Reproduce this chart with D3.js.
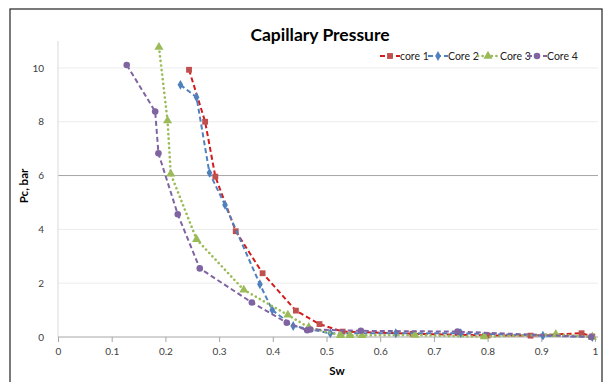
<!DOCTYPE html>
<html><head><meta charset="utf-8">
<script src="https://cdn.jsdelivr.net/npm/d3@7"></script>
<style>body{margin:0;background:#fff}svg{display:block}</style>
</head><body>
<script>
const seriesNames = ["core 1", "Core 2", "Core 3", "Core 4"];
const core1 = [[0.244,9.93],[0.274,8.0],[0.293,5.96],[0.331,3.93],[0.381,2.37],[0.443,0.98],[0.487,0.48],[0.53,0.2],[0.66,0.12],[0.8,0.06],[0.88,0.05],[0.975,0.14],[0.995,0.02]];
const core2 = [[0.228,9.37],[0.258,8.91],[0.282,6.1],[0.311,4.91],[0.376,1.96],[0.399,1.0],[0.438,0.41],[0.507,0.14],[0.629,0.14],[0.75,0.14],[0.903,0.05],[0.995,0.0]];
const core3 = [[0.188,10.77],[0.204,8.04],[0.21,6.06],[0.258,3.63],[0.346,1.75],[0.428,0.82],[0.467,0.36],[0.526,0.06],[0.544,0.06],[0.566,0.06],[0.665,0.07],[0.794,0.01],[0.927,0.1],[0.995,0.0]];
const core4 = [[0.128,10.11],[0.181,8.38],[0.187,6.83],[0.223,4.56],[0.264,2.55],[0.361,1.28],[0.426,0.53],[0.464,0.25],[0.47,0.28],[0.564,0.23],[0.744,0.2],[0.993,0.0]];
const xTicks = [0,0.1,0.2,0.3,0.4,0.5,0.6,0.7,0.8,0.9,1];
const yTicks = [0,2,4,6,8,10];

const W=612,H=382;
const svg=d3.select("body").append("svg").attr("width",W).attr("height",H);
const font="Lato, 'Open Sans', sans-serif";
// frame
svg.append("rect").attr("x",10).attr("y",9).attr("width",592).attr("height",400).attr("fill","none").attr("stroke","#222").attr("stroke-width",1.2);

const x=d3.scaleLinear().domain([0,1]).range([58,595]);
const y=d3.scaleLinear().domain([0,11]).range([337,41]);

// gridlines
svg.append("g").selectAll("line").data(yTicks.filter(d=>d>0)).join("line")
  .attr("x1",58).attr("x2",598).attr("y1",d=>y(d)).attr("y2",d=>y(d))
  .attr("stroke",d=>d===6?"#a6a6a6":"#ececec").attr("stroke-width",1);
// y axis line
svg.append("line").attr("x1",58).attr("x2",58).attr("y1",41).attr("y2",337).attr("stroke","#d9d9d9");

// x axis
const xa=svg.append("g").attr("transform","translate(0,337)")
  .call(d3.axisBottom(x).tickValues(xTicks).tickSize(5).tickPadding(6).tickFormat(d=>d3.format("")(d)));
xa.select(".domain").attr("stroke","#a6a6a6").attr("d","M58,0H598");
xa.selectAll(".tick line").attr("stroke","#a6a6a6");
xa.selectAll("text").attr("font-family",font).attr("font-size",10).attr("fill","#404040");

// y axis labels
const ya=svg.append("g").attr("transform","translate(58,0)")
  .call(d3.axisLeft(y).tickValues(yTicks).tickSize(0).tickPadding(14));
ya.select(".domain").remove();
ya.selectAll("text").attr("font-family",font).attr("font-size",10).attr("fill","#404040");

const series=[
 {name:seriesNames[0],data:core1,line:"#d41a1a",mk:"#c0504d",dash:"5,3",sym:d3.symbolSquare,size:34},
 {name:seriesNames[1],data:core2,line:"#4f81bd",mk:"#4f81bd",dash:"5,3",sym:d3.symbolDiamond,size:28},
 {name:seriesNames[2],data:core3,line:"#9bbb59",mk:"#9bbb59",dash:"0.1,4.5",sym:d3.symbolTriangle,size:36,cap:"round"},
 {name:seriesNames[3],data:core4,line:"#8064a2",mk:"#8064a2",dash:"5,3",sym:d3.symbolCircle,size:34},
];
const line=d3.line().x(d=>x(d[0])).y(d=>y(d[1]));
series.forEach(s=>{
  svg.append("path").attr("d",line(s.data)).attr("fill","none").attr("stroke",s.line)
    .attr("stroke-width",s.cap?2.6:2).attr("stroke-dasharray",s.dash).attr("stroke-linecap",s.cap||"butt");
  svg.append("g").selectAll("path").data(s.data).join("path")
    .attr("d",d3.symbol().type(s.sym).size(s.size))
    .attr("transform",d=>`translate(${x(d[0])},${y(d[1])})`)
    .attr("fill",s.mk);
});

// title
svg.append("text").attr("x",320).attr("y",41).attr("text-anchor","middle")
  .attr("font-family",font).attr("font-weight","bold").attr("font-size",17.5).attr("fill","#000").text("Capillary Pressure");
svg.append("text").attr("x",337).attr("y",375).attr("text-anchor","middle")
  .attr("font-family",font).attr("font-weight","bold").attr("font-size",11.5).text("Sw");
svg.append("text").attr("transform","translate(28,186) rotate(-90)").attr("text-anchor","middle")
  .attr("font-family",font).attr("font-weight","bold").attr("font-size",11.5).text("Pc, bar");

// legend
const lx=[380,428,478,527];
series.forEach((s,i)=>{
  const g=svg.append("g").attr("transform",`translate(${lx[i]},56)`);
  g.append("line").attr("x1",0).attr("x2",20).attr("y1",0).attr("y2",0).attr("stroke",s.line)
    .attr("stroke-width",s.cap?2.6:2).attr("stroke-dasharray",s.cap?"0.1,4.5":"5,3").attr("stroke-linecap",s.cap||"butt");
  g.append("path").attr("d",d3.symbol().type(s.sym).size(s.size)).attr("transform","translate(10,0)").attr("fill",s.mk);
  g.append("text").attr("x",i===2?22:20).attr("y",3.5).attr("font-family",font).attr("font-size",10.5).attr("fill","#222").text(s.name);
});
</script>
</body></html>
